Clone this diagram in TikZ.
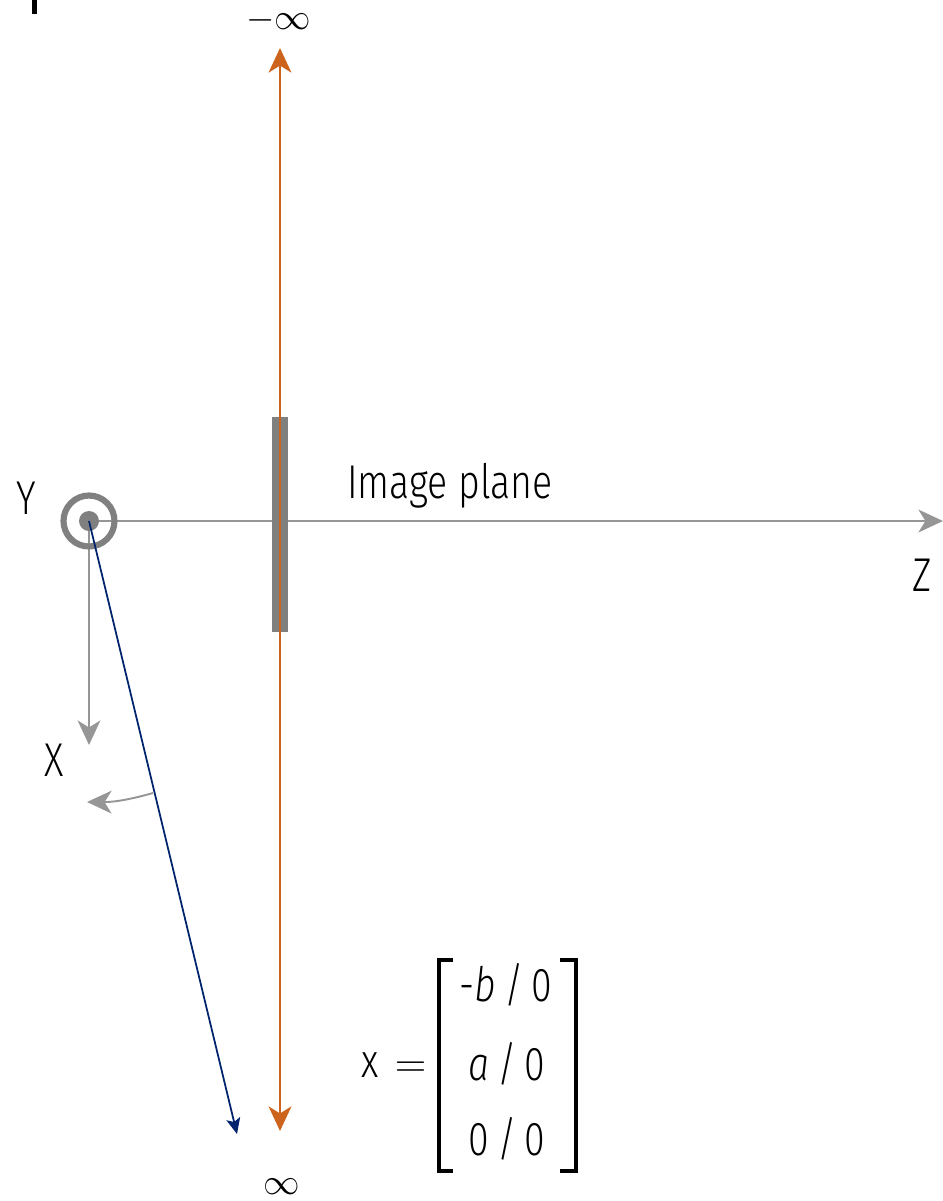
\documentclass[tikz,border=0pt]{standalone}
\usepackage{fontspec}
\setmainfont{Fira Sans Light}[FakeStretch=0.79,ItalicFont={Fira Sans Light Italic}]
\usetikzlibrary{arrows.meta}
\definecolor{axisgray}{RGB}{150,150,150}
\definecolor{planegray}{RGB}{128,128,128}
\definecolor{rayorange}{RGB}{205,100,30}
\definecolor{raynavy}{RGB}{0,35,110}
\begin{document}
\begin{tikzpicture}[x=0.02cm,y=-0.02cm,
	font=\fontsize{27}{30}\selectfont,
	axis/.style={draw=axisgray,line width=1.1pt,-{Stealth[length=14pt,width=13pt,inset=4pt]}},
	bracket/.style={draw=black,line width=1.8pt}]
	\useasboundingbox(0,0)rectangle(943,1201);
	\fill(32,0)rectangle(37,14);
	\coordinate(o)at(89,521);
	\coordinate(xend)at(89,745);
	\coordinate(zend)at(943,521);
	\coordinate(top)at(280,48);
	\coordinate(bot)at(280,1131);
	\coordinate(ray)at(237,1134);
	\coordinate(arcstart)at(153,793);
	\coordinate(arcend)at(87,802);
	\draw[axis](o)--(zend);
	\draw[axis](o)--(xend);
	\fill[planegray](272,417)rectangle(288,632);
	\draw[rayorange,line width=1.1pt,{Stealth[length=14pt,width=13pt,inset=4pt]}-{Stealth[length=14pt,width=13pt,inset=4pt]}](top)--(bot);
	\draw[planegray,line width=3.5pt](o)circle(25.5);
	\fill[planegray](o)circle(10);
	\draw[raynavy,line width=1pt,-{Stealth[length=9pt,width=8pt,inset=2pt]}](o)--(ray);
	\draw[axis](arcstart)to[bend left=8](arcend);
	% labels
	\node(ylab)at(26,498){Y};
	\node(xlab)at(54,760){X};
	\node(zlab)at(922,575){Z};
	\node[anchor=base west](imgplane)at(341,498){Image plane};
	\node[font=\fontsize{20}{24}\selectfont,inner sep=0pt](minf)at(279,20){$-\infty$};
	\node[font=\fontsize{20}{24}\selectfont,inner sep=0pt](inf)at(282,1187){$\infty$};
	% vector
	\node(xeq)at(394,1065){x\,\,$=$};
	\node(r1)at(506,985){-\textit{b}\,/\,0};
	\node(r2)at(507,1064){\textit{a}\,/\,0};
	\node(r3)at(507,1139){0\,/\,0};
	\draw[bracket](453,960)-|(439,1171)--(453,1171);
	\draw[bracket](560,960)-|(576,1171)--(560,1171);
\end{tikzpicture}
\end{document}
